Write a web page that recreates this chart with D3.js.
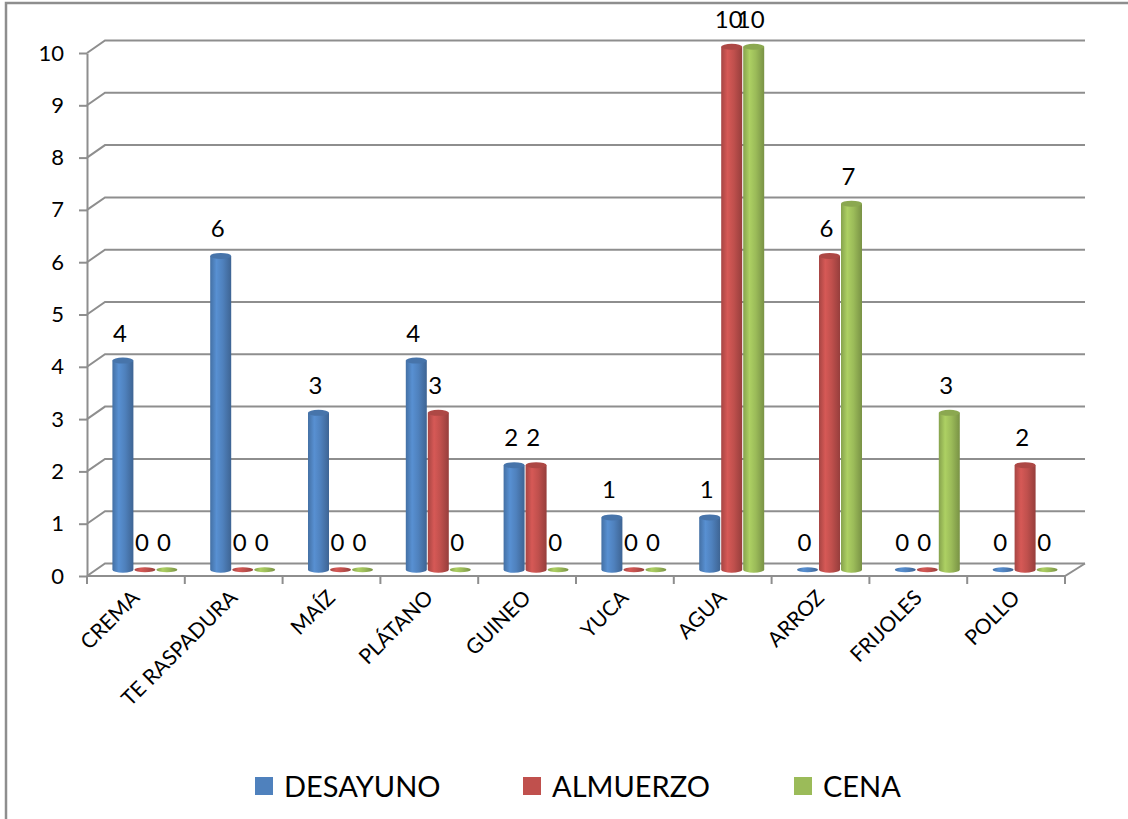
<!DOCTYPE html>
<html>
<head>
<meta charset="utf-8">
<script src="https://cdn.jsdelivr.net/npm/d3@7"></script>
<style>
  body { margin: 0; background: #fff; }
  text { font-family: Lato, "Open Sans", sans-serif; fill: #000; }
</style>
</head>
<body>
<svg id="chart" width="1128" height="819"></svg>
<script>
// Food consumed per meal
const categories = ["CREMA", "TE RASPADURA", "MAÍZ", "PLÁTANO", "GUINEO", "YUCA", "AGUA", "ARROZ", "FRIJOLES", "POLLO"];
const seriesNames = ["DESAYUNO", "ALMUERZO", "CENA"];
const desayuno = [4, 6, 3, 4, 2, 1, 1, 0, 0, 0];
const almuerzo = [0, 0, 0, 3, 2, 0, 10, 6, 0, 2];
const cena     = [0, 0, 0, 0, 0, 0, 10, 7, 3, 0];
const yTicks = [0, 1, 2, 3, 4, 5, 6, 7, 8, 9, 10];
const seriesColors = ["#4F81BD", "#C0504D", "#9BBB59"];

const seriesValues = [desayuno, almuerzo, cena];

const svg = d3.select("#chart");
const GRID = "#8e8e8e";

// 3D depth offset of the back wall
const DX = 18, DY = -12.5;

const x = d3.scaleBand().domain(categories).range([87, 1065]);
const y = d3.scaleLinear().domain([0, 10]).range([576, 53]);
const sub = d3.scaleBand().domain(seriesNames).range([-33, 33]);

// outer frame
svg.append("path")
  .attr("d", "M6,819 L6,3 L1128,3")
  .attr("fill", "none").attr("stroke", GRID).attr("stroke-width", 2.5);

// gradients for the cylinders
const defs = svg.append("defs");
seriesColors.forEach((c, i) => {
  const base = d3.color(c);
  const g = defs.append("linearGradient").attr("id", "cyl" + i)
    .attr("x1", "0").attr("x2", "1").attr("y1", "0").attr("y2", "0");
  g.append("stop").attr("offset", "0").attr("stop-color", base.darker(0.4));
  g.append("stop").attr("offset", "0.3").attr("stop-color", base.brighter(0.3));
  g.append("stop").attr("offset", "0.6").attr("stop-color", base);
  g.append("stop").attr("offset", "1").attr("stop-color", base.darker(0.7));
});

// gridlines on the back wall with perspective stubs
const grid = svg.append("g").attr("fill", "none").attr("stroke", GRID).attr("stroke-width", 2);
grid.selectAll("path.grid").data(yTicks).join("path").attr("class", "grid")
  .attr("d", t => `M${x.range()[0]},${y(t)} L${x.range()[0] + DX},${y(t) + DY} L${x.range()[1] + DX + 2},${y(t) + DY}`);

// floor front edge and right side
grid.append("path")
  .attr("d", `M${x.range()[0]},${y(0)} L${x.range()[1]},${y(0)} L${x.range()[1] + DX + 2},${y(0) + DY}`);

// category tick marks
grid.selectAll("line.ctick").data(d3.range(categories.length + 1)).join("line").attr("class", "ctick")
  .attr("x1", k => x.range()[0] + k * x.step()).attr("x2", k => x.range()[0] + k * x.step())
  .attr("y1", y(0)).attr("y2", y(0) + 8);

// value axis
const yAxis = svg.append("g").attr("transform", `translate(${x.range()[0]},0)`)
  .call(d3.axisLeft(y).tickValues(yTicks).tickSize(8).tickSizeOuter(0).tickPadding(15).tickFormat(d3.format("d")));
yAxis.select(".domain").attr("stroke", GRID).attr("stroke-width", 2);
yAxis.selectAll(".tick line").attr("stroke", GRID).attr("stroke-width", 2);
yAxis.selectAll(".tick text").attr("font-size", 22).attr("font-family", "Lato, 'Open Sans', sans-serif").attr("fill", "#000");

// category labels
svg.append("g").selectAll("text").data(categories).join("text")
  .attr("transform", d => `translate(${x(d) + x.bandwidth() / 2 + 5},${y(0) + 23}) rotate(-45)`)
  .attr("text-anchor", "end")
  .attr("font-size", 21)
  .text(d => d);

// cylinders
const R = sub.bandwidth() / 2 - 0.5;
const RY = 3;
const bars = [];
categories.forEach((c, ci) => {
  seriesNames.forEach((s, si) => {
    bars.push({
      c, s, si, v: seriesValues[si][ci],
      cx: x(c) + x.bandwidth() / 2 + DX / 2 + sub(s) + sub.bandwidth() / 2
    });
  });
});

const gb = svg.append("g");
bars.forEach(b => {
  const base = y(0) + DY / 2;
  const top = y(b.v) + DY / 2;
  const col = d3.color(seriesColors[b.si]);
  if (b.v > 0) {
    gb.append("path")
      .attr("d", `M${b.cx - R},${top} L${b.cx - R},${base} A${R},${RY} 0 0 0 ${b.cx + R},${base} L${b.cx + R},${top} Z`)
      .attr("fill", `url(#cyl${b.si})`);
    gb.append("ellipse")
      .attr("cx", b.cx).attr("cy", top).attr("rx", R).attr("ry", RY)
      .attr("fill", col.darker(0.3));
  } else {
    gb.append("ellipse")
      .attr("cx", b.cx).attr("cy", base).attr("rx", R).attr("ry", 2.5)
      .attr("fill", `url(#cyl${b.si})`);
  }
});

// value labels
svg.append("g").selectAll("text").data(bars).join("text")
  .attr("x", b => b.cx - 3)
  .attr("y", b => y(b.v) + DY / 2 - 19)
  .attr("text-anchor", "middle")
  .attr("font-size", 24)
  .text(b => b.v);

// legend
const legendX = [255, 523, 794];
const leg = svg.append("g").selectAll("g").data(seriesNames).join("g")
  .attr("transform", (d, i) => `translate(${legendX[i]},777)`);
leg.append("rect").attr("width", 18).attr("height", 18).attr("fill", (d, i) => seriesColors[i]);
leg.append("text").attr("x", 29).attr("y", 20).attr("font-size", 29).text(d => d);
</script>
</body>
</html>
